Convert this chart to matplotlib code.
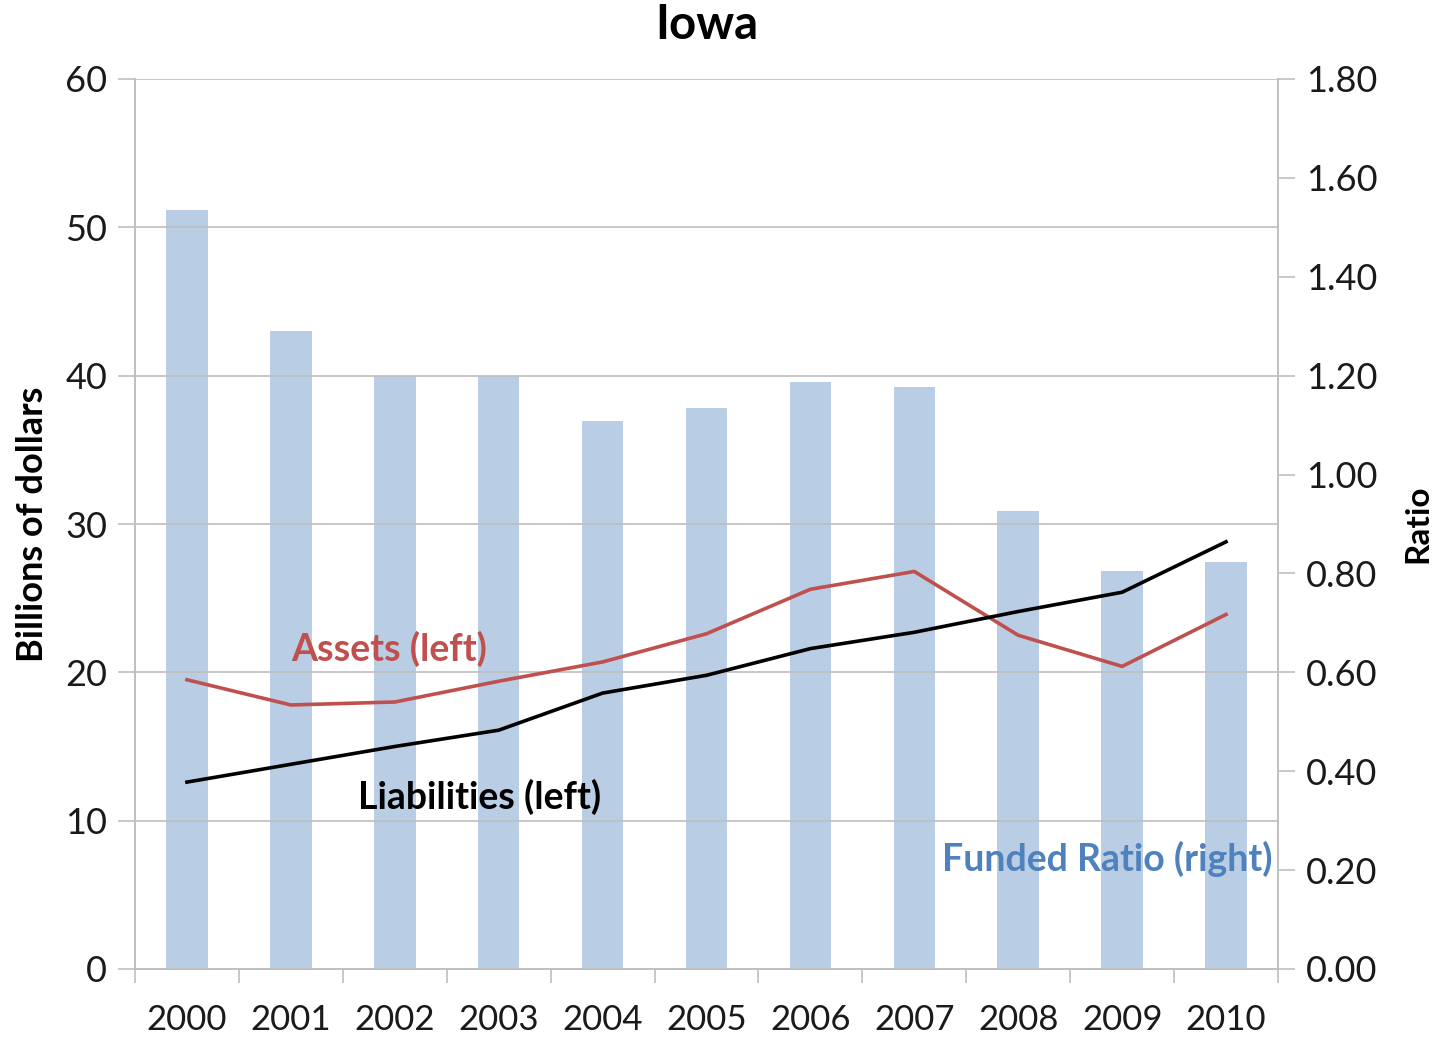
import matplotlib
matplotlib.use("Agg")
import matplotlib.pyplot as plt
import numpy as np

years = ["2000", "2001", "2002", "2003", "2004", "2005", "2006", "2007", "2008", "2009", "2010"]
funded_ratio = [1.535, 1.29, 1.20, 1.20, 1.108, 1.135, 1.187, 1.177, 0.926, 0.805, 0.823]
assets = [19.5, 17.8, 18.0, 19.4, 20.7, 22.6, 25.6, 26.8, 22.5, 20.4, 23.9]
liabilities = [12.6, 13.8, 15.0, 16.1, 18.6, 19.8, 21.6, 22.7, 24.1, 25.4, 28.8]

left_ticks = [0, 10, 20, 30, 40, 50, 60]
right_ticks = [0.0, 0.2, 0.4, 0.6, 0.8, 1.0, 1.2, 1.4, 1.6, 1.8]

plt.rcParams['font.family'] = ['Lato', 'DejaVu Sans']

W, H = 1435, 1038
fig = plt.figure(figsize=(W / 100, H / 100), dpi=100)
ax = fig.add_axes([135/W, 1 - 969/H, (1278-135)/W, (969-79)/H])
ax2 = ax.twinx()

x = np.arange(len(years))
grid_c = "#BFBFBF"
tick_fs = 26

# bars on right axis
ax2.bar(x, funded_ratio, width=0.4, color="#B9CDE5", zorder=1)
ax2.set_ylim(0, 1.8)
ax2.set_yticks(right_ticks)
ax2.set_yticklabels([f"{v:.2f}" for v in right_ticks], fontsize=tick_fs, color="#1a1a1a")

# lines on left axis, drawn above bars
ax.set_zorder(ax2.get_zorder() + 1)
ax.patch.set_visible(False)
for v in left_ticks[1:]:
    ax.axhline(v, color=grid_c, lw=1.2, zorder=0)
ax.plot(x, assets, color="#C0504D", lw=2.6, zorder=3)
ax.plot(x, liabilities, color="black", lw=2.6, zorder=3)
ax.set_ylim(0, 60)
ax.set_xlim(-0.5, len(years) - 0.5)
ax.set_yticks(left_ticks)
ax.set_yticklabels([str(v) for v in left_ticks], fontsize=tick_fs, color="#1a1a1a")

ax.set_xticks(x)
ax.set_xticklabels(years, fontsize=25, color="#1a1a1a")
ax.set_xticks(np.arange(-0.5, len(years), 1.0), minor=True)
ax.tick_params(axis="x", which="major", length=0, pad=25)
ax.tick_params(axis="x", which="minor", length=10, color=grid_c, width=1.2)
ax.tick_params(axis="y", length=12, color=grid_c, width=1.2, pad=8)
ax2.tick_params(axis="y", length=12, color=grid_c, width=1.2, pad=8)

for a in (ax, ax2):
    a.spines["top"].set_visible(False)
    for s in ("left", "right", "bottom"):
        a.spines[s].set_color(grid_c)
        a.spines[s].set_linewidth(1.2)

fig.text(33 / W, 1 - 524 / H, "Billions of dollars", fontsize=26, fontweight="bold",
         rotation=90, ha="center", va="center")
fig.text(1418 / W, 1 - 524 / H, "Ratio", fontsize=24, fontweight="bold",
         rotation=90, ha="center", va="center")
fig.text(0.5 * (135 + 1278) / W, 1 - 25 / H, "Iowa", fontsize=34, fontweight="bold",
         ha="center", va="center")

ax.text(1.0, 21.6, "Assets (left)", color="#C0504D", fontsize=27, fontweight="bold", ha="left", va="center")
ax.text(1.65, 11.6, "Liabilities (left)", color="black", fontsize=27, fontweight="bold", ha="left", va="center")
ax.text(10.45, 7.4, "Funded Ratio (right)", color="#4F81BD", fontsize=27, fontweight="bold", ha="right", va="center")

fig.savefig("out.png", dpi=100)
